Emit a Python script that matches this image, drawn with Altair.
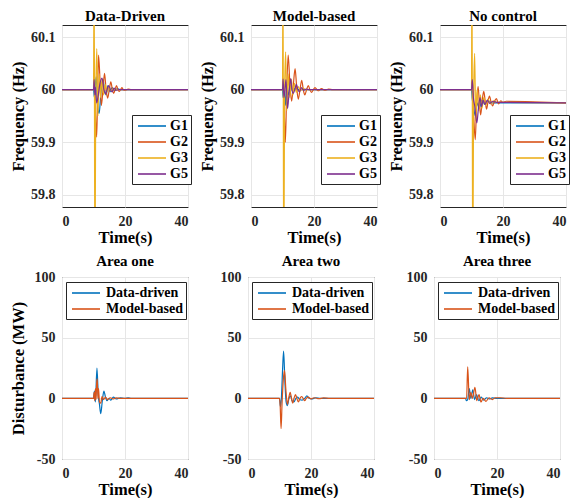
import altair as alt
import pandas as pd

FONT = "'Liberation Serif', 'Times New Roman', Times, serif"

GEN_NAMES = ["G1", "G2", "G3", "G5"]
GEN_COLORS = ["#0072BD", "#D95319", "#EDB120", "#7E2F8E"]
CTRL_NAMES = ["Data-driven", "Model-based"]
CTRL_COLORS = ["#0072BD", "#D95319"]

TOP_TITLES = ["Data-Driven", "Model-based", "No control"]
BOTTOM_TITLES = ["Area one", "Area two", "Area three"]

TIME_DOMAIN = [0, 40]
TIME_TICKS = [0, 20, 40]
FREQ_DOMAIN = [59.777, 60.123]
FREQ_TICKS = [59.8, 59.9, 60, 60.1]
DIST_DOMAIN = [-50, 100]
DIST_TICKS = [-50, 0, 50, 100]

# ---------------- Frequency, Data-Driven ----------------
DD_G1 = [(0, 60), (10, 60), (10.3, 59.985), (10.6, 60.01), (10.9, 60.025), (11.3, 59.97),
         (11.8, 59.955), (12.3, 59.99), (13.0, 60.02), (13.5, 60.0), (14.0, 59.99), (14.6, 60.008),
         (15.2, 59.996), (15.9, 60.004), (16.7, 59.998), (17.6, 60.002), (18.6, 60), (40, 60)]
DD_G2 = [(0, 60), (10, 60), (10.3, 60.008), (10.65, 59.95), (11.0, 59.91), (11.3, 59.99),
         (11.6, 60.066), (12.05, 60.02), (12.5, 59.97), (13.0, 60.0), (13.5, 60.031), (14.0, 60.0),
         (14.5, 59.984), (15.0, 60.0), (15.5, 60.015), (16.0, 60.0), (16.4, 59.993), (16.85, 60.0),
         (17.3, 60.008), (17.75, 60.0), (18.2, 59.997), (18.6, 60.0), (19.0, 60.004), (19.5, 60.0),
         (20.0, 59.999), (21.0, 60.001), (22.0, 60), (40, 60)]
DD_G3 = [(0, 60), (10, 60), (10.2, 60.25), (10.45, 59.6), (10.7, 59.98), (11.05, 60.078),
         (11.4, 59.95), (11.8, 60.03), (12.2, 59.985), (12.7, 60.02), (13.2, 59.99), (13.7, 60.01),
         (14.3, 59.996), (14.9, 60.005), (15.6, 59.998), (16.4, 60.002), (17.5, 60), (40, 60)]
DD_G5 = [(0, 60), (10, 60), (10.2, 60.019), (10.4, 59.99), (10.6, 60.005), (11.0, 59.975),
         (11.4, 59.985), (12.0, 60.01), (12.7, 60.022), (13.3, 60.0), (13.8, 59.992), (14.3, 60.0),
         (14.8, 60.008), (15.4, 60.0), (15.9, 59.996), (16.5, 60.003), (17.2, 59.999), (18, 60), (40, 60)]

# ---------------- Frequency, Model-based ----------------
MB_G1 = [(0, 60), (10, 60), (10.2, 59.985), (10.5, 60.01), (10.9, 59.97), (11.4, 60.01),
         (12.0, 59.99), (12.6, 60.008), (13.3, 59.996), (14.0, 60.003), (15, 60), (40, 60)]
MB_G2 = [(0, 60), (10, 60), (10.3, 60.01), (10.6, 59.95), (10.9, 59.9), (11.3, 59.99),
         (11.8, 60.066), (12.35, 60.01), (12.9, 59.978), (13.45, 60.01), (14.0, 60.04), (14.5, 60.005),
         (15.0, 59.982), (15.55, 60.0), (16.1, 60.018), (16.6, 60.0), (17.1, 59.99), (17.65, 60.0),
         (18.2, 60.008), (18.7, 60.0), (19.2, 59.995), (19.8, 60.0), (20.3, 60.004), (21.3, 59.998),
         (22.4, 60.002), (23.5, 59.999), (24.6, 60.001), (26, 60), (40, 60)]
MB_G3 = [(0, 60), (10, 60), (10.15, 60.25), (10.4, 59.6), (10.65, 59.99), (11.0, 60.072),
         (11.35, 59.96), (11.8, 60.03), (12.3, 59.985), (12.8, 60.02), (13.3, 59.99), (13.8, 60.012),
         (14.4, 59.995), (15.0, 60.006), (15.7, 59.998), (16.5, 60.003), (17.5, 60), (40, 60)]
MB_G5 = [(0, 60), (10, 60), (10.2, 60.02), (10.45, 59.985), (10.8, 60.0), (11.1, 60.019),
         (11.6, 59.964), (12.1, 59.995), (12.6, 60.021), (13.0, 60.0), (13.4, 59.993), (13.9, 60.0),
         (14.4, 60.01), (14.9, 60.0), (15.4, 59.996), (16.0, 60.004), (16.7, 59.999), (17.5, 60.001),
         (18.5, 60), (40, 60)]

# ---------------- Frequency, No control ----------------
NC_G1 = [(0, 60), (10, 60), (10.2, 59.985), (10.6, 59.97), (11.2, 59.95), (11.8, 59.975),
         (12.5, 59.965), (13.3, 59.98), (14.2, 59.972), (15.2, 59.979), (16.5, 59.975), (40, 59.975)]
NC_G2 = [(0, 60), (10, 60), (10.3, 60.0), (10.7, 59.95), (11.2, 59.905), (11.6, 59.97),
         (12.1, 60.006), (12.5, 59.975), (12.9, 59.952), (13.4, 59.98), (13.9, 59.997), (14.35, 59.978),
         (14.8, 59.963), (15.25, 59.978), (15.7, 59.988), (16.2, 59.977), (16.7, 59.969), (17.3, 59.978),
         (17.9, 59.983), (18.6, 59.973), (19.3, 59.979), (20.0, 59.976), (21.0, 59.978), (40, 59.975)]
NC_G3 = [(0, 60), (10, 60), (10.15, 60.25), (10.4, 59.6), (10.65, 59.98), (11.0, 60.069),
         (11.35, 59.94), (11.8, 60.0), (12.3, 59.96), (12.8, 59.99), (13.3, 59.965), (13.9, 59.985),
         (14.5, 59.97), (15.2, 59.982), (16.0, 59.973), (17.0, 59.979), (18.0, 59.976), (40, 59.975)]
NC_G5 = [(0, 60), (10, 60), (10.25, 60.019), (10.6, 59.985), (11.0, 59.97), (11.7, 59.937),
         (12.2, 59.965), (12.7, 59.985), (13.2, 59.968), (13.7, 59.98), (14.3, 59.972), (15.0, 59.98),
         (15.8, 59.974), (16.8, 59.978), (18.0, 59.976), (40, 59.975)]

# ---------------- Disturbance (MW) ----------------
A1_DD = [(0, 0), (10, 0), (10.3, 6), (10.6, -3), (11.1, 25), (11.5, 3), (11.9, -5), (12.3, -12.7),
         (12.8, -2), (13.3, 6), (13.8, 1), (14.3, -2), (14.9, 0), (15.5, -1.5), (16.3, 1), (17.2, -0.5),
         (18.5, 0.5), (20, 0), (21, 0.5), (22, 0), (40, 0)]
A1_MB = [(0, 0), (10, 0), (10.2, 5), (10.4, -2), (10.6, 8), (10.8, -1), (11.0, 12), (11.2, 16),
         (11.4, 0), (11.6, 8), (11.9, -3), (12.3, -4), (12.7, 1.5), (13.2, -1), (13.8, 1), (14.5, -1),
         (15.3, 0.5), (16.2, -0.5), (17.2, 0.3), (18.5, 0), (40, 0)]
A2_DD = [(0, 0), (10, 0), (10.3, -7), (10.6, 0), (11.0, 25), (11.3, 39), (11.7, 15), (12.1, -3),
         (12.5, -6), (13.0, 0), (13.5, 2), (14.0, -2), (14.6, -3), (15.2, 0), (15.8, 1), (16.4, -1),
         (17.2, -1.5), (18.0, 0), (18.7, 2), (19.4, 0), (20.2, -0.5), (21.5, 0.5), (23, 0), (40, 0)]
A2_MB = [(0, 0), (10, 0), (10.2, -5), (10.5, -25), (10.8, -5), (11.2, 15), (11.6, 23), (12.0, 8),
         (12.5, -5), (12.9, 0), (13.4, 5), (13.8, 0), (14.2, -4), (14.6, 0), (15.1, 3), (15.5, 0),
         (16.0, -3), (16.5, 0), (17.0, 1.5), (17.5, 0), (18.0, -2), (18.5, 0), (19.1, 1), (20, -0.5),
         (21, 0.5), (22.5, -0.3), (24, 0.3), (26, 0), (40, 0)]
A3_DD = [(0, 0), (10, 0), (10.3, -2), (10.7, -1), (11.2, 8), (11.7, 0), (12.3, 7), (12.9, -1),
         (13.5, 3), (14.2, -2), (15.0, 1), (15.8, -1.5), (16.7, 0.5), (17.6, -0.5), (18.5, 0.3),
         (20, 0), (40, 0)]
A3_MB = [(0, 0), (10, 0), (10.35, 0), (10.7, 26), (11.2, -1), (11.7, 5), (12.2, 0), (13.0, 9),
         (13.6, -2), (14.3, 3), (14.9, -3), (15.6, 0), (16.5, -2.5), (17.5, 0.5), (18.5, -1),
         (19.5, 0.5), (21, 0.5), (23, 0), (40, 0)]

TOP_SERIES = [[DD_G1, DD_G2, DD_G3, DD_G5], [MB_G1, MB_G2, MB_G3, MB_G5], [NC_G1, NC_G2, NC_G3, NC_G5]]
BOTTOM_SERIES = [[A1_DD, A1_MB], [A2_DD, A2_MB], [A3_DD, A3_MB]]

PW, PH = 126, 182


def frame(names, series):
    rows = []
    for name, pts in zip(names, series):
        for t, v in pts:
            rows.append({"t": t, "v": v, "s": name})
    return pd.DataFrame(rows)


def panel(title, names, colors, series, ydomain, yticks, ytitle, ytitle_opacity, legend):
    df = frame(names, series)
    return (
        alt.Chart(df)
        .mark_line(strokeWidth=1.2, clip=True, interpolate="monotone")
        .encode(
            x=alt.X("t:Q", scale=alt.Scale(domain=TIME_DOMAIN, nice=False),
                    axis=alt.Axis(values=TIME_TICKS, title="Time(s)")),
            y=alt.Y("v:Q", scale=alt.Scale(domain=ydomain, nice=False, zero=False),
                    axis=alt.Axis(values=yticks, title=ytitle, titleOpacity=ytitle_opacity,
                                  labelExpr="datum.value + ''")),
            color=alt.Color("s:N", scale=alt.Scale(domain=names, range=colors), legend=legend),
        )
        .properties(width=PW, height=PH, title=title)
    )


def make_legend(x, y, offset):
    return alt.Legend(title=None, orient="none", legendX=x, legendY=y, direction="vertical",
                      symbolType="M-2,0H2", symbolSize=196, symbolStrokeWidth=1.6,
                      symbolOffset=9,
                      labelFont=FONT, labelFontSize=14, labelFontWeight="bold", labelColor="black",
                      fillColor="white", strokeColor="#262626", padding=3, rowPadding=1,
                      labelOffset=offset)


top_row = alt.hconcat(
    *[panel(TOP_TITLES[i], GEN_NAMES, GEN_COLORS, TOP_SERIES[i], FREQ_DOMAIN, FREQ_TICKS,
            "Frequency (Hz)", 1, make_legend(70, 90, 10)) for i in range(3)],
    spacing=6,
).resolve_scale(color="independent")

bottom_row = alt.hconcat(
    *[panel(BOTTOM_TITLES[i], CTRL_NAMES, CTRL_COLORS, BOTTOM_SERIES[i], DIST_DOMAIN, DIST_TICKS,
            "Disturbance (MW)", 1 if i == 0 else 0, make_legend(4, 5, 12)) for i in range(3)],
    spacing=6,
).resolve_scale(color="independent")

chart = (
    alt.vconcat(top_row, bottom_row, spacing=7)
    .resolve_scale(color="independent")
    .properties(padding={"left": 1, "top": 0, "right": 0, "bottom": 0})
    .configure_view(stroke="#262626", strokeWidth=1)
    .configure_axis(labelFont=FONT, labelFontSize=14, labelFontWeight="bold", labelColor="#262626",
                    titleFont=FONT, titleFontSize=16.5, titleFontWeight="bold", titleColor="black",
                    gridColor="#e6e6e6", gridWidth=1, domain=False, ticks=False)
    .configure_axisX(labelPadding=7, titlePadding=1)
    .configure_axisY(labelPadding=7, titlePadding=4, minExtent=32, maxExtent=32)
    .configure_title(font=FONT, fontSize=15, fontWeight="bold", color="black", offset=1)
)

chart.save("out.html", embed_options={"renderer": "svg", "actions": False})
